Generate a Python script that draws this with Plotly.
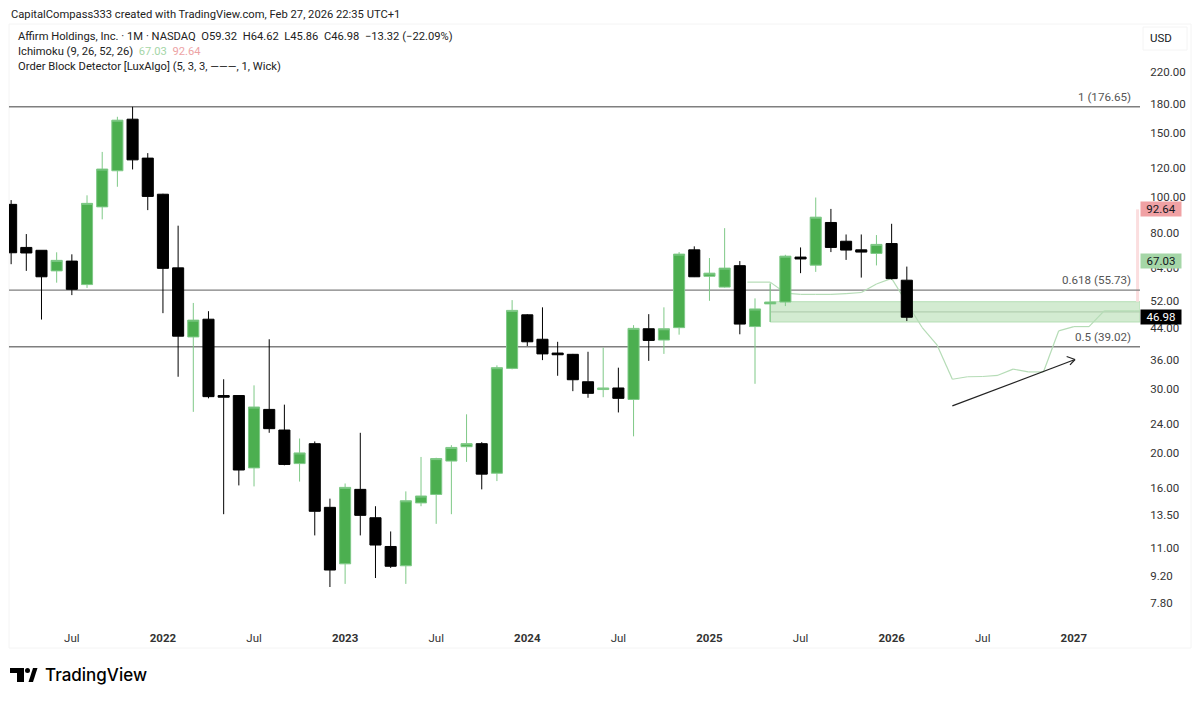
import math
import plotly.graph_objects as go

# monthly candles, Mar 2021 to Feb 2026, index 0 = Mar 2021
opens = [95.6, 72.9, 71.6, 62.9, 66.9, 57.7, 94.1, 118.1, 163.4, 127.9,
         101.9, 64.1, 41.5, 46.4, 28.7, 28.7, 18.2, 26.3, 23.1, 18.7,
         21.2, 14.2, 9.95, 15.9, 13.3, 11.1, 9.83, 14.6, 15.4, 19.0,
         20.8, 21.2, 17.6, 34.05, 47.7, 40.9, 37.5, 37.2, 31.3, 29.8,
         30.1, 28.0, 43.7, 40.7, 44.0, 71.8, 60.8, 56.8, 65.0, 44.3,
         51.1, 51.7, 68.6, 65.2, 85.3, 75.8, 71.8, 70.2, 74.7, 59.32]
highs = [98.2, 79.3, 71.6, 70.7, 69.8, 101.2, 133.0, 165.9, 176.65, 132.0,
         102.2, 83.6, 51.4, 48.8, 31.8, 28.7, 30.6, 40.9, 27.1, 21.9,
         21.5, 15.0, 16.5, 22.7, 14.3, 12.2, 15.7, 19.5, 19.4, 21.0,
         25.5, 21.4, 34.7, 52.33, 47.9, 50.0, 40.25, 37.3, 37.8, 38.8,
         34.2, 44.7, 47.9, 50.0, 70.8, 73.4, 68.2, 82.3, 66.9, 52.9,
         58.1, 69.6, 72.9, 99.8, 92.9, 79.1, 79.1, 78.8, 84.6, 64.62]
lows = [65.6, 62.9, 46.3, 58.4, 54.0, 56.5, 87.0, 106.8, 119.1, 92.2,
        48.2, 32.3, 25.9, 28.2, 13.6, 16.3, 16.2, 22.7, 18.5, 16.7,
        11.9, 8.6, 8.77, 11.9, 9.1, 9.7, 8.77, 14.3, 12.8, 13.6,
        18.9, 15.9, 16.75, 33.85, 39.2, 35.87, 32.5, 29.5, 28.3, 28.4,
        25.8, 22.2, 35.7, 37.3, 42.1, 60.5, 52.1, 56.6, 42.2, 30.9,
        45.6, 50.4, 62.0, 62.5, 70.8, 67.4, 60.3, 65.1, 59.6, 45.86]
closes = [70.5, 70.4, 60.6, 67.2, 56.0, 96.2, 119.4, 162.4, 126.5, 100.5,
          63.9, 41.7, 46.14, 28.5, 28.4, 17.96, 26.7, 23.3, 18.6, 20.0,
          13.85, 9.57, 16.1, 13.5, 11.2, 9.8, 14.8, 15.25, 19.3, 20.7,
          21.2, 17.5, 34.2, 49.05, 40.25, 37.3, 37.1, 31.7, 29.1, 30.1,
          28.2, 43.8, 40.6, 43.7, 69.9, 60.6, 62.0, 64.0, 45.0, 49.5,
          51.7, 69.0, 67.8, 88.2, 72.9, 71.7, 70.8, 74.3, 59.9, 46.98]
months = list(range(len(closes)))

# thin ichimoku span, index 48.5 to 75
span_x = [48.5, 49, 50, 51, 52, 53, 54, 55, 56, 57, 58, 59, 60, 61, 62, 63, 64,
          65, 66, 67, 68, 69, 70, 71, 72, 73, 74, 75]
span_y = [58.6, 58.6, 58.6, 54.7, 54.25, 54.25, 54.25, 54.5, 54.9, 57.9, 60.0, 51.4, 44.1, 39.4, 31.8, 32.3, 32.35,
          32.6, 33.9, 33.3, 33.3, 43.1, 44.3, 44.3, 48.9, 48.9, 48.9, 48.9]

fib_levels = [176.65, 55.73, 39.02]
fib_labels = ["1 (176.65)", "0.618 (55.73)", "0.5 (39.02)"]

ob_top, ob_mid, ob_bottom = 51.8, 48.6, 45.6
ob_start = 50

# drawn arrow: tail, tip and the two barbs
arrow_x = [62.0, 70.08, 69.53, 69.75]
arrow_y = [26.9, 36.0, 36.7, 34.8]

tick_prices = [220, 180, 150, 120, 100, 80, 64, 52, 44, 36, 30, 24, 20, 16, 13.5, 11, 9.2, 7.8]
tick_labels = ["220.00", "180.00", "150.00", "120.00", "100.00", "80.00", "64.00", "52.00", "44.00",
               "36.00", "30.00", "24.00", "20.00", "16.00", "13.50", "11.00", "9.20", "7.80"]
time_ticks = [4, 10, 16, 22, 28, 34, 40, 46, 52, 58, 64, 70]
time_labels = ["Jul", "<b>2022</b>", "Jul", "<b>2023</b>", "Jul", "<b>2024</b>",
               "Jul", "<b>2025</b>", "Jul", "<b>2026</b>", "Jul", "<b>2027</b>"]

price_tags = [(92.64, "#f0a1a4", "#131722"), (67.03, "#a5d6a7", "#131722"), (46.98, "#000000", "#ffffff")]

FONT = "Roboto"
X_MIN, X_MAX = -0.14, 74.36
L, R, T, B = 9, 1140, 24, 622


# page pixels to paper coords, only for the header and logo
def px(x):
    return (x - L) / (R - L)


def py(y):
    return (B - y) / (B - T)


def poly(points):
    return "M" + "L".join(f"{px(x)},{py(y)}" for x, y in points) + "Z"


fig = go.Figure()

fig.add_candlestick(x=months, open=opens, high=highs, low=lows, close=closes,
                    increasing=dict(line=dict(color="#7fc987", width=1), fillcolor="#4caf50"),
                    decreasing=dict(line=dict(color="#000000", width=1), fillcolor="#000000"),
                    showlegend=False)

# everything below sits under the candles, so shapes instead of scatter traces
fig.add_shape(type="rect", x0=ob_start, x1=X_MAX, y0=ob_bottom, y1=ob_top, layer="below",
              fillcolor="#d3ebd1", line=dict(color="#b4deb4", width=1))
fig.add_shape(type="line", x0=ob_start, x1=X_MAX, y0=ob_mid, y1=ob_mid, layer="below",
              line=dict(color="#b3cfb0", width=1.2))
fig.add_shape(type="line", x0=ob_start, x1=ob_start, y0=ob_bottom, y1=58.1, layer="below",
              line=dict(color="#a5d6a7", width=1))
fig.add_shape(type="line", x0=74.2, x1=74.2, y0=92.64, y1=ob_top, layer="below",
              line=dict(color="#fbdedf", width=3))

for level in fib_levels:
    fig.add_shape(type="line", x0=X_MIN, x1=X_MAX, y0=level, y1=level, layer="below",
                  line=dict(color="#7f7f7f", width=1.4))

for i in range(len(span_x) - 1):
    fig.add_shape(type="line", x0=span_x[i], x1=span_x[i + 1], y0=span_y[i], y1=span_y[i + 1], layer="below",
                  line=dict(color="#b5dcb6", width=1.2))

# arrow
for i in [0, 2, 3]:
    fig.add_shape(type="line", x0=arrow_x[i], x1=arrow_x[1], y0=arrow_y[i], y1=arrow_y[1],
                  line=dict(color="#222222", width=1.2))

# frame and USD box
fig.add_shape(type="rect", xref="paper", yref="paper", x0=px(9), x1=px(1191), y0=py(648), y1=py(24),
              layer="below", line=dict(color="#f4f4f4", width=1))
fig.add_shape(type="rect", xref="paper", yref="paper", x0=px(1143), x1=px(1187), y0=py(50), y1=py(27),
              layer="below", line=dict(color="#f4f4f4", width=1))

# logo
logo_t = [(10, 668), (24, 668), (24, 682), (17, 682), (17, 673), (10, 673)]
logo_slash = [(28.5, 682), (33, 668), (37.5, 668), (33, 682)]
for points in [logo_t, logo_slash]:
    fig.add_shape(type="path", xref="paper", yref="paper", path=poly(points),
                  fillcolor="#000000", line=dict(width=0))
fig.add_shape(type="circle", xref="paper", yref="paper", x0=px(25), x1=px(30), y0=py(673), y1=py(668),
              fillcolor="#000000", line=dict(width=0))

for level, label in zip(fib_levels, fib_labels):
    fig.add_annotation(x=px(1133), xref="paper", y=math.log10(level), yref="y", text=label, showarrow=False,
                       xanchor="right", yanchor="bottom", yshift=1,
                       font=dict(family=FONT, size=11.6, color="#555555"))

for price, bg, color in price_tags:
    fig.add_annotation(x=1, xref="paper", y=math.log10(price), yref="y", text=str(price), showarrow=False,
                       xanchor="left", yanchor="middle", width=40, height=14, bgcolor=bg, borderpad=0,
                       font=dict(family=FONT, size=11.5, color=color))

header = [
    (9, 14, "CapitalCompass333 created with TradingView.com, Feb 27, 2026 22:35 UTC+1"),
    (16, 37, "Affirm Holdings, Inc. · 1M · NASDAQ  O59.32  H64.62  L45.86  C46.98  −13.32 (−22.09%)"),
    (16, 52, 'Ichimoku (9, 26, 52, 26)  <span style="color:#a5d6a7">67.03</span>  '
             '<span style="color:#eda3a5">92.64</span>'),
    (16, 67, "Order Block Detector [LuxAlgo] (5, 3, 3, ———, 1, Wick)"),
]
for x, y, text in header:
    fig.add_annotation(x=px(x), y=py(y), xref="paper", yref="paper", text=text, showarrow=False,
                       xanchor="left", yanchor="middle", font=dict(family=FONT, size=11.2, color="#222222"))

fig.add_annotation(x=px(1161), y=py(38), xref="paper", yref="paper", text="USD", showarrow=False,
                   xanchor="center", yanchor="middle", font=dict(family=FONT, size=11.5, color="#131722"))
fig.add_annotation(x=px(43), y=py(675), xref="paper", yref="paper", text="TradingView", showarrow=False,
                   xanchor="left", yanchor="middle", font=dict(family="Inter", size=17, color="#000000", weight=500))

fig.update_xaxes(range=[X_MIN, X_MAX], rangeslider_visible=False, showgrid=False, zeroline=False,
                 showline=False, tickmode="array", tickvals=time_ticks, ticktext=time_labels,
                 ticks="outside", ticklen=5, tickcolor="rgba(0,0,0,0)",
                 tickfont=dict(family=FONT, size=11.5, color="#333333"))
fig.update_yaxes(type="log", range=[math.log10(6.9), math.log10(297.5)], side="right",
                 showgrid=False, zeroline=False, showline=False, tickmode="array",
                 tickvals=tick_prices, ticktext=tick_labels, ticks="outside", ticklen=7,
                 tickcolor="rgba(0,0,0,0)", tickfont=dict(family=FONT, size=11.5, color="#333333"))
fig.update_layout(width=1200, height=701, margin=dict(l=L, r=1200 - R, t=T, b=701 - B),
                  paper_bgcolor="#ffffff", plot_bgcolor="#ffffff", boxgap=0.27, boxgroupgap=0,
                  showlegend=False, hovermode=False)

# the page's default body margin would push the fixed-size plot off by 8px
fig.write_html("out.html", post_script="document.body.style.margin='0';", config=dict(displayModeBar=False))
